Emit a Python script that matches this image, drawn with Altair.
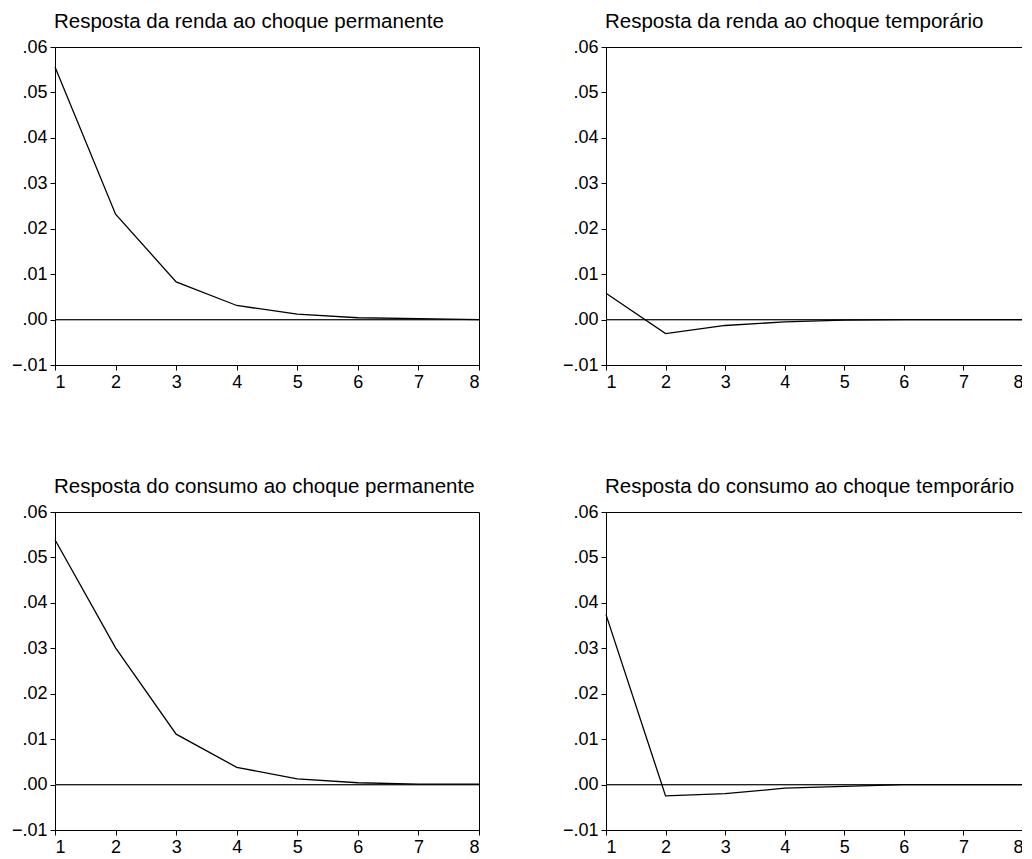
import altair as alt
import pandas as pd

periods = [1, 2, 3, 4, 5, 6, 7, 8]

titles = [
    "Resposta da renda ao choque permanente",
    "Resposta da renda ao choque temporário",
    "Resposta do consumo ao choque permanente",
    "Resposta do consumo ao choque temporário",
]

renda_perm = [0.0556, 0.0232, 0.0083, 0.0031, 0.0012, 0.0004, 0.0002, 0.0000]
renda_temp = [0.0058, -0.0031, -0.0013, -0.0005, -0.0001, 0.0000, 0.0000, 0.0000]
consumo_perm = [0.0539, 0.0301, 0.0111, 0.0038, 0.00125, 0.0004, 0.0001, 0.0001]
consumo_temp = [0.0374, -0.0025, -0.0020, -0.0008, -0.0004, 0.0000, 0.0000, 0.0000]

series = [renda_perm, renda_temp, consumo_perm, consumo_temp]

y_ticks = [-0.01, 0.0, 0.01, 0.02, 0.03, 0.04, 0.05, 0.06]

FONT = "Liberation Sans"
H = 318
widths = [424, 417, 424, 417]

axis_style = dict(
    title=None, grid=False, domainColor="black", tickColor="black",
    labelColor="black", labelFont=FONT, labelFontSize=18, tickSize=5,
    labelPadding=3, domainWidth=1, tickWidth=1,
)


def panel(title, values, w):
    df = pd.DataFrame({"t": periods, "v": values})
    base = alt.Chart(df)
    x = alt.X(
        "t:Q",
        scale=alt.Scale(domain=[1, 8], nice=False, zero=False),
        axis=alt.Axis(values=periods, format="d", labelAngle=0, **axis_style),
    )
    y = alt.Y(
        "v:Q",
        scale=alt.Scale(domain=[-0.01, 0.06], nice=False, zero=False),
        axis=alt.Axis(values=y_ticks,
                      labelExpr="replace(format(datum.value, '.2f'), '0.', '.')",
                      **axis_style),
    )
    zero = base.mark_rule(color="#222222", strokeWidth=0.8).encode(
        y=alt.datum(0),
        x=alt.value(0),
        x2=alt.value(w),
    )
    line = base.mark_line(color="black", strokeWidth=1.3).encode(x=x, y=y)
    return alt.layer(zero, line).properties(
        width=w,
        height=H,
        title=alt.TitleParams(
            text=title, anchor="start", frame="group", font=FONT,
            fontSize=20.5, fontWeight="normal", color="black",
            baseline="alphabetic", offset=-10, dx=-1,
        ),
    )


charts = [panel(t, s, w) for t, s, w in zip(titles, series, widths)]

chart = alt.concat(*charts, columns=2, spacing={"row": 147, "column": 127}).properties(
    bounds="flush",
    padding={"left": 2, "top": 3, "right": -5, "bottom": 0},
    background="white",
).configure_view(
    stroke="black", strokeWidth=1
)

chart.save("out.html", embed_options={"renderer": "svg", "actions": False})
